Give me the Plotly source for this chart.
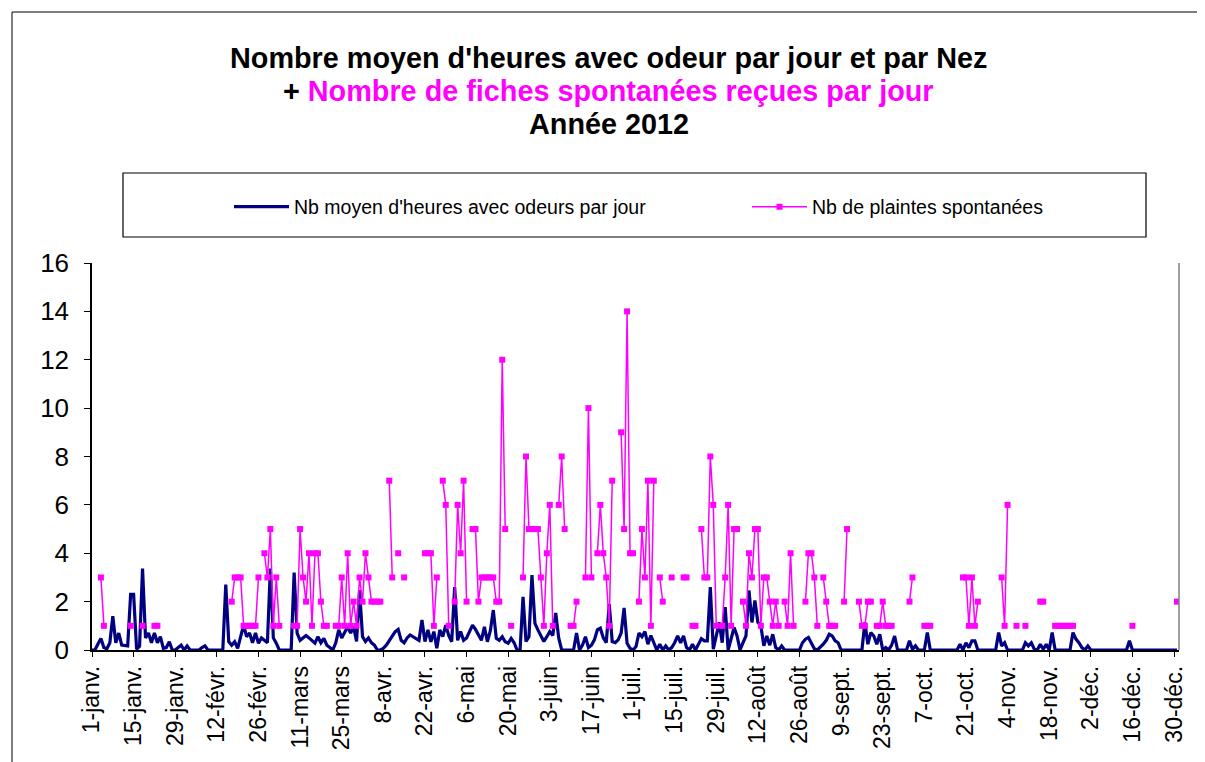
import plotly.graph_objects as go
import pandas as pd

N = None

# Nb moyen d'heures avec odeurs par jour (one value per day, by month)
jan_h = [0, 0, 0.25, 0.48, 0.1, 0.05, 0.3, 1.4, 0.3, 0.7, 0.2, 0.17, 0.17, 2.3, 2.3, 0.03, 0.15, 3.37, 0.5, 0.7, 0.3, 0.7, 0.3, 0.55, 0.07, 0.1, 0.34, 0, 0, 0.1, 0.2]
feb_h = [0, 0.17, 0, 0, 0, 0, 0.1, 0.17, 0, 0, 0, 0, 0, 0, 2.7, 0.35, 0.2, 0.34, 0.07, 0.5, 1.03, 0.55, 0.7, 0.3, 0.7, 0.28, 0.5, 0.4, 0.3]
mar_h = [3.37, 0.5, 0.28, 0, 0, 0, 0, 0, 3.2, 0.7, 0.4, 0.5, 0.6, 0.5, 0.4, 0.28, 0.55, 0.3, 0.48, 0.2, 0.1, 0, 0.3, 0.83, 0.5, 0.7, 0.96, 0.7, 0.96, 0.35, 2.48]
apr_h = [0.55, 0.35, 0.5, 0.3, 0.2, 0, 0, 0.07, 0.2, 0.4, 0.6, 0.76, 0.85, 0.4, 0.3, 0.5, 0.62, 0.55, 0.5, 0.4, 1.24, 0.35, 0.83, 0.34, 0.76, 0.07, 0.83, 0.55, 1.03, 0.6]
may_h = [0.34, 2.6, 0.4, 0.76, 0.4, 0.5, 0.76, 1.03, 0.85, 0.6, 0.4, 0.96, 0.34, 0.8, 1.65, 0.48, 0.4, 0.55, 0.34, 0.28, 0.48, 0.3, 0, 0, 2.2, 0.35, 0.55, 3.1, 1.1, 0.83, 0.55]
jun_h = [0.35, 0.55, 0.76, 0.6, 1.53, 0.5, 0, 0, 0, 0, 0, 0.7, 0, 0.2, 0.55, 0.1, 0.2, 0.42, 0.83, 0.9, 0.5, 0.3, 1.9, 0.35, 0.3, 0.42, 0.7, 1.74, 0.28, 0.07]
jul_h = [0, 0.14, 0.7, 0.55, 0.76, 0.24, 0.6, 0.3, 0, 0.24, 0, 0.17, 0, 0.1, 0.3, 0.58, 0.3, 0.58, 0.1, 0, 0.24, 0, 0.24, 0.47, 0.38, 0.38, 2.6, 0.03, 0.58, 1.14, 0.3]
aug_h = [1.77, 0, 0.5, 0.93, 0.58, 0, 0.3, 0.58, 2.46, 1.14, 2.05, 1.14, 1.0, 0.17, 0.58, 0.2, 0.65, 0.1, 0, 0.17, 0, 0, 0, 0, 0, 0, 0.3, 0.45, 0.52, 0.3, 0.05]
sep_h = [0, 0.1, 0.24, 0.4, 0.65, 0.58, 0.38, 0.3, 0, 0, 0, 0, 0, 0, 0, 0, 1.14, 0.24, 0.72, 0.58, 0.24, 0.65, 0, 0.1, 0, 0.2, 0.58, 0, 0, 0]
oct_h = [0, 0.38, 0.03, 0.17, 0, 0, 0, 0.72, 0, 0, 0, 0, 0, 0, 0, 0, 0, 0, 0.24, 0, 0.3, 0.1, 0.38, 0.38, 0, 0, 0, 0, 0, 0, 0]
nov_h = [0.72, 0.17, 0.3, 0, 0, 0, 0, 0, 0, 0.3, 0.17, 0.3, 0.03, 0, 0.24, 0.03, 0.24, 0, 0.72, 0, 0, 0, 0, 0, 0, 0.72, 0.45, 0.3, 0.1, 0]
dec_h = [0.17, 0, 0, 0, 0, 0, 0, 0, 0, 0, 0, 0, 0, 0, 0.38, 0, 0, 0, 0, 0, 0, 0, 0, 0, 0, 0, 0, 0, 0, 0, 0]

# Nb de plaintes spontanées (None = pas de fiche ce jour-là)
jan_p = [N, N, N, 3, 1, N, N, N, N, N, N, N, N, 1, N, N, N, 1, N, N, N, 1, 1, N, N, N, N, N, N, N, N]
feb_p = [N, N, N, N, N, N, N, N, N, N, N, N, N, N, N, N, 2, 3, 3, 3, 1, 1, 1, 1, 1, 3, N, 4, 3]
mar_p = [5, 1, 3, 1, N, N, N, N, 1, 1, 5, 3, 2, 4, 1, 4, 4, 2, 1, 1, N, N, 1, 1, 3, 1, 4, 1, 2, 1, 3]
apr_p = [2, 4, 3, 2, 2, 2, 2, N, N, 7, 3, N, 4, N, 3, N, N, N, N, N, N, 4, 4, 4, 1, 3, N, 7, 6, 1]
may_p = [N, 2, 6, 4, 7, 2, N, 5, 5, 2, 3, 3, 3, 3, 3, 2, 2, 12, 5, N, 1, N, N, N, 3, 8, 5, 5, 5, 5, 3]
jun_p = [1, 4, 6, 1, N, 6, 8, 5, N, 1, 1, 2, N, N, 3, 10, 3, N, 4, 6, 4, 3, 1, 7, N, N, 9, 5, 14, 4]
jul_p = [4, N, 2, 5, 3, 7, 1, 7, N, 3, 2, N, N, 3, N, N, N, 3, 3, N, 1, 1, N, 5, 3, 3, 8, 6, 1, N, 1]
aug_p = [3, 6, 1, 5, 5, N, 2, 1, 4, 3, 5, 5, 1, 3, 3, 2, 1, 2, 1, N, 2, 1, 4, 1, N, N, N, 2, 4, 4, 3]
sep_p = [1, N, 3, 2, 1, 1, 1, N, N, 2, 5, N, N, N, 2, 1, 1, 2, 2, N, 1, 1, 2, 1, 1, 1, N, N, N, N]
oct_p = [N, 2, 3, N, N, N, 1, 1, 1, N, N, N, N, N, N, N, N, N, N, 3, 3, 1, 3, 1, 2, N, N, N, N, N, N]
nov_p = [N, 3, 1, 6, N, N, 1, N, N, 1, N, N, N, N, 2, 2, N, N, N, 1, 1, 1, 1, 1, 1, 1, N, N, N, N]
dec_p = [N, N, N, N, N, N, N, N, N, N, N, N, N, N, N, 1, N, N, N, N, N, N, N, N, N, N, N, N, N, N, 2]

tick_labels = ["1-janv.", "15-janv.", "29-janv.", "12-févr.", "26-févr.", "11-mars", "25-mars",
               "8-avr.", "22-avr.", "6-mai", "20-mai", "3-juin", "17-juin", "1-juil.", "15-juil.",
               "29-juil.", "12-août", "26-août", "9-sept.", "23-sept.", "7-oct.", "21-oct.",
               "4-nov.", "18-nov.", "2-déc.", "16-déc.", "30-déc."]

heures = jan_h + feb_h + mar_h + apr_h + may_h + jun_h + jul_h + aug_h + sep_h + oct_h + nov_h + dec_h
plaintes = jan_p + feb_p + mar_p + apr_p + may_p + jun_p + jul_p + aug_p + sep_p + oct_p + nov_p + dec_p
dates = pd.date_range("2012-01-01", "2012-12-31", freq="D")
tick_dates = pd.date_range("2012-01-01", periods=len(tick_labels), freq="14D")

FONT = "Liberation Sans, Arial, sans-serif"
OFF = 8  # the page body has an 8 px margin: figure pixel = screen pixel - 8
W, H = 1205 - OFF, 762 - OFF
# plot area in screen pixels
L, R, T, B = 92, 1179, 263, 650


def px(x):
    return (x - L) / (R - L)


def py(y):
    return (B - y) / (B - T)


fig = go.Figure()
fig.add_trace(go.Scatter(
    x=dates, y=heures, mode="lines",
    name="Nb moyen d'heures avec odeurs par jour",
    line=dict(color="#000080", width=3.2),
    legendwidth=448,
))
fig.add_trace(go.Scatter(
    x=dates, y=plaintes, mode="lines+markers",
    name="Nb de plaintes spontanées",
    line=dict(color="#FF00FF", width=1.5),
    marker=dict(symbol="square", size=6, color="#FF00FF"),
    connectgaps=False,
    legendwidth=240,
))

title_lines = [
    ("<b>Nombre moyen d'heures avec odeur par jour et par Nez</b>", 58),
    ("<b>+ <span style='color:#FF00FF'>Nombre de fiches spontanées reçues par jour</span></b>", 91),
    ("<b>Année 2012</b>", 124),
]
annotations = []
for txt, yy in title_lines:
    annotations.append(dict(
        text=txt, xref="paper", yref="paper", x=px(608.5), y=py(yy),
        xanchor="center", yanchor="middle", showarrow=False,
        font=dict(family=FONT, size=28.8, color="black"),
    ))

shapes = [
    # legend frame
    dict(type="rect", xref="paper", yref="paper", x0=px(123), x1=px(1146), y0=py(237), y1=py(173),
         line=dict(color="black", width=1.2), fillcolor="rgba(0,0,0,0)"),
    # right plot border
    dict(type="line", xref="paper", yref="paper", x0=1, x1=1, y0=0, y1=1,
         line=dict(color="#808080", width=1.5)),
    # chart frame (top and left)
    dict(type="line", xref="paper", yref="paper", x0=px(12), x1=px(1210), y0=py(12), y1=py(12),
         line=dict(color="black", width=1)),
    dict(type="line", xref="paper", yref="paper", x0=px(12), x1=px(12), y0=py(12), y1=py(770),
         line=dict(color="black", width=1)),
]

fig.update_layout(
    width=W, height=H,
    margin=dict(l=L - OFF, r=1205 - R, t=T - OFF, b=762 - B, pad=0),
    paper_bgcolor="white", plot_bgcolor="white",
    font=dict(family=FONT, color="black"),
    showlegend=True,
    legend=dict(
        orientation="h", x=px(229), y=py(207), xanchor="left", yanchor="middle",
        font=dict(family=FONT, size=19.5, color="black"),
        bgcolor="rgba(0,0,0,0)", borderwidth=0,
        entrywidthmode="pixels", itemwidth=55,
        traceorder="normal",
    ),
    annotations=annotations,
    shapes=shapes,
    xaxis=dict(
        type="date", range=["2012-01-01", "2012-12-31 16:00"],
        tickmode="array", tickvals=tick_dates, ticktext=tick_labels,
        tickangle=-90, ticks="outside", ticklen=5, tickcolor="black", tickwidth=1,
        showline=True, linecolor="black", linewidth=1.5,
        showgrid=False, zeroline=False,
        tickfont=dict(family=FONT, size=23, color="black"),
    ),
    yaxis=dict(
        range=[0, 16], dtick=2, tick0=0,
        ticks="outside", ticklen=6, tickcolor="black", tickwidth=1,
        showline=True, linecolor="black", linewidth=1.5,
        showgrid=False, zeroline=False,
        tickfont=dict(family=FONT, size=26, color="black"),
        ticklabelstandoff=10,
    ),
)

fig.write_html("out.html")
